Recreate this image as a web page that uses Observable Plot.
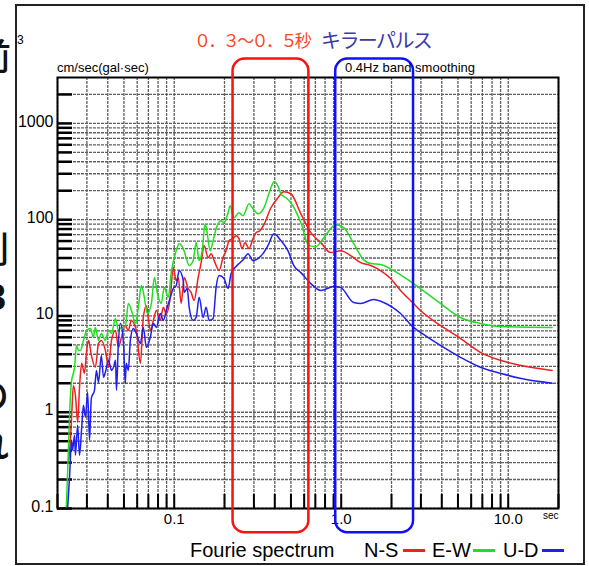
<!DOCTYPE html>
<html><head><meta charset="utf-8">
<script src="https://cdn.jsdelivr.net/npm/d3@7"></script>
<script src="https://cdn.jsdelivr.net/npm/@observablehq/plot@0.6"></script>
<style>
body{margin:0;background:#fff;}
#wrap{position:relative;width:589px;height:566px;overflow:hidden;font-family:"Liberation Sans",Arial,sans-serif;}
#wrap svg{position:absolute;left:0;top:0;}
.t{position:absolute;white-space:nowrap;line-height:1;}
.cut{position:absolute;white-space:nowrap;line-height:1;font-family:"Noto Sans CJK JP";font-size:36px;font-weight:500;color:#111;}
.sw{position:absolute;height:2.5px;width:22px;}
</style></head>
<body>
<div id="wrap"></div>
<script>
// ---- data (period in sec, Fourier amplitude in cm/sec) ----
const nsPeriod = [0.0233,0.0239,0.0243,0.0249,0.0256,0.0264,0.0271,0.0279,0.029,0.0299,0.0307,0.0319,0.0337,0.0352,0.0366,0.0387,0.0404,0.0421,0.0445,0.0463,0.0483,0.0509,0.0531,0.0553,0.0593,0.0627,0.0653,0.0681,0.0719,0.075,0.0782,0.0825,0.086,0.0896,0.0947,0.0986,0.1028,0.1057,0.1101,0.1147,0.1212,0.1263,0.1316,0.1391,0.145,0.151,0.1596,0.1664,0.1734,0.1857,0.1961,0.2044,0.213,0.225,0.2345,0.2443,0.2547,0.2654,0.2804,0.2962,0.3087,0.3261,0.3446,0.3795,0.4178,0.4537,0.4994,0.5732,0.6575,0.7545,0.8658,0.993,1.14,1.308,1.501,1.721,1.975,2.266,2.709,2.983,3.926,5.169,6.806,8.96,11.79,18.31];
const nsAmp = [0.318,0.513,0.888,1.90,1.50,0.788,1.82,3.22,2.54,4.39,5.57,3.90,2.93,5.19,5.57,4.39,2.93,5.57,7.08,4.72,5.99,7.97,7.08,8.98,7.08,3.22,9.65,12.8,7.08,8.98,11.4,8.98,12.3,10.6,15.6,31.8,23.3,25.1,13.5,25.1,19.3,17.5,14.5,25.1,35.8,53.8,40.4,44.4,37.6,29.6,40.4,47.7,60.6,63.6,68.3,63.6,50.1,57.8,50.1,63.6,73.3,76.9,88.8,133,169,195,186,115,73.3,57.8,45.5,47.7,42.4,35.8,33.4,29.6,24.5,18.4,13.5,11.4,7.97,5.85,4.19,3.46,3.07,2.72];

const ewPeriod = [0.0226,0.0233,0.0236,0.0243,0.0249,0.0253,0.026,0.0267,0.0275,0.0286,0.0299,0.0315,0.0328,0.0337,0.0352,0.0366,0.0387,0.0404,0.0421,0.0445,0.0463,0.0483,0.0509,0.0531,0.0561,0.0585,0.061,0.0635,0.0662,0.069,0.073,0.076,0.0793,0.0836,0.0872,0.0921,0.096,0.1028,0.1071,0.1132,0.1179,0.1229,0.1298,0.1353,0.141,0.147,0.1531,0.1574,0.1641,0.171,0.1781,0.1909,0.1988,0.2101,0.216,0.2282,0.2443,0.2582,0.2804,0.2962,0.3173,0.3446,0.3795,0.3954,0.4178,0.4354,0.4665,0.4994,0.5732,0.64,0.7045,0.7863,0.9273,1.035,1.188,1.344,1.501,1.721,2.058,2.709,3.926,5.169,6.806,8.96,18.31];
const ewAmp = [0.104,0.455,0.888,2.15,2.54,2.93,4.94,4.39,4.39,5.57,7.08,7.42,5.99,7.60,5.57,6.59,5.57,7.08,6.59,9.42,7.08,7.60,7.60,13.5,10.6,8.36,12.3,20.7,15.6,10.6,13.5,25.1,17.1,13.5,19.7,15.6,28.2,47.7,56.4,50.1,40.4,33.4,37.6,57.8,37.6,47.7,90.9,73.3,47.7,60.6,80.7,97.7,93.1,118.2,139.6,104.9,118.2,110,146.5,130,115.4,133,214.5,247.7,225,186,169,150,93.1,53.8,52.5,65.1,88.8,82.6,56.4,39.4,35.0,34.2,29.6,21.7,13.5,9.65,8.36,7.78,7.60];

const udPeriod = [0.023,0.0236,0.0243,0.0246,0.0253,0.0256,0.0264,0.0271,0.0279,0.0286,0.0294,0.0303,0.0311,0.0319,0.0333,0.0342,0.0352,0.0366,0.0377,0.0387,0.0404,0.0421,0.0433,0.0445,0.0451,0.0463,0.0476,0.0497,0.0509,0.0516,0.0531,0.0546,0.0569,0.0593,0.0627,0.0653,0.0681,0.0719,0.075,0.0782,0.0825,0.086,0.0896,0.0947,0.0986,0.1028,0.1071,0.1132,0.1147,0.1196,0.1229,0.1298,0.1353,0.141,0.149,0.1552,0.1618,0.171,0.1781,0.1857,0.1988,0.2101,0.219,0.2282,0.2443,0.2618,0.2766,0.2962,0.3173,0.3399,0.3641,0.3954,0.4354,0.4795,0.5205,0.5732,0.6575,0.7545,0.902,0.993,1.188,1.308,1.563,1.794,2.266,2.709,2.983,3.926,5.169,6.806,8.96,11.79,18.31];
const udAmp = [0.101,0.207,0.513,0.404,0.578,0.358,0.733,0.358,0.683,1.18,0.888,1.61,0.513,1.40,1.69,2.72,2.05,3.90,2.31,2.60,3.46,2.72,2.93,3.46,1.69,5.19,8.36,5.19,2.0,3.22,2.72,5.57,7.42,6.59,5.19,7.60,4.72,5.99,8.36,7.60,10.6,8.98,11.4,15.6,19.3,20.7,29.6,23.3,17.5,19.3,12.3,8.98,9.65,15.6,9.65,12.3,8.98,9.42,19.7,26.3,24.5,19.3,27.6,31.1,35.0,39.4,44.4,37.6,39.4,44.4,53.8,71.6,60.6,47.7,33.4,28.2,21.7,18.4,20.2,19.7,13.8,13.5,14.8,13.8,10.6,7.60,6.75,4.94,3.72,2.93,2.54,2.25,2.0];

const xGrid = [0.02,0.03,0.04,0.05,0.06,0.07,0.08,0.09,0.1,0.2,0.3,0.4,0.5,0.6,0.7,0.8,0.9,1,2,3,4,5,6,7,8,9,10,20];
const yGrid = [0.1,0.2,0.3,0.4,0.5,0.6,0.7,0.8,0.9,1,2,3,4,5,6,7,8,9,10,20,30,40,50,60,70,80,90,100,200,300,400,500,600,700,800,900,1000,2000];
const xTicks = [0.1,1,10];
const xTickLabels = ["0.1","1.0","10.0"];
const yTicks = [0.1,1,10,100,1000];
const yTickLabels = ["0.1","1","10","100","1000"];

// highlighted period bands (sec) and their vertical extent (cm/sec)
const redBand = [0.225, 0.64];
const blueBand = [0.927, 2.71];
const bandAmp = [0.056, 4660];

const seriesNames = ["N-S","E-W","U-D"];
const seriesColors = ["#ee2020","#22dd22","#2020ee"];

const toRows = (p, a) => p.map((d, i) => ({period: d, amp: a[i]}));
const ns = toRows(nsPeriod, nsAmp), ew = toRows(ewPeriod, ewAmp), ud = toRows(udPeriod, udAmp);

const gridStyle = {stroke: "#606060", strokeWidth: 1.3, strokeDasharray: "3,1"};
const chart = Plot.plot({
  width: 589, height: 566,
  marginLeft: 57, marginRight: 31, marginTop: 77, marginBottom: 58,
  x: {type: "log", domain: [0.02, 20], label: null},
  y: {type: "log", domain: [0.1, 3000], label: null},
  style: {background: "transparent", fontFamily: "Liberation Sans, Arial, sans-serif", color: "#000"},
  marks: [
    Plot.ruleX(xGrid, {x: d => d, ...gridStyle}),
    Plot.ruleY(yGrid, {y: d => d, ...gridStyle}),
    Plot.tickX(xGrid, {x: d => d, insetTop: 417, stroke: "#000", strokeWidth: 2}),
    Plot.tickY(yGrid, {y: d => d, insetRight: 486, stroke: "#000", strokeWidth: 2.5}),
    Plot.line(ns, {x: "period", y: "amp", stroke: seriesColors[0], strokeWidth: 1.5, curve: "monotone-x"}),
    Plot.line(ew, {x: "period", y: "amp", stroke: seriesColors[1], strokeWidth: 1.5, curve: "monotone-x"}),
    Plot.line(ud, {x: "period", y: "amp", stroke: seriesColors[2], strokeWidth: 1.5, curve: "monotone-x"}),
    Plot.frame({stroke: "#000", strokeWidth: 2}),
    Plot.axisY(yTicks, {tickSize: 0, tickPadding: 4, fontSize: 16, dy: -2, label: null,
      tickFormat: d => yTickLabels[yTicks.indexOf(d)]}),
    Plot.axisX(xTicks, {tickSize: 0, tickPadding: 5, fontSize: 15, label: null,
      tickFormat: d => xTickLabels[xTicks.indexOf(d)]}),
    Plot.rect([0], {x1: redBand[0], x2: redBand[1], y1: bandAmp[0], y2: bandAmp[1], rx: 12, fill: "none", stroke: "#ff1010", strokeWidth: 2.5}),
    Plot.rect([0], {x1: blueBand[0], x2: blueBand[1], y1: bandAmp[0], y2: bandAmp[1], rx: 12, fill: "none", stroke: "#1010ff", strokeWidth: 2.5})
  ]
});
const wrap = document.getElementById("wrap");
wrap.appendChild(chart);

const html = `
<div style="position:absolute;left:15px;top:4px;width:570px;height:561px;border:2px solid #222;box-sizing:border-box;"></div>
<div class="cut" style="left:-25px;top:36px;">前</div>
<div class="cut" style="left:-27px;top:229px;">列</div>
<div class="cut" style="left:-14px;top:280px;font-family:'Liberation Sans';font-weight:700;">3</div>
<div class="cut" style="left:-27px;top:375px;">の</div>
<div class="cut" style="left:-27px;top:424px;">れ</div>
<div class="t" style="left:17px;top:34px;font-size:12px;">3</div>
<div class="t" style="left:194px;top:31px;font-family:'Noto Sans CJK JP';font-size:17px;color:#ff4422;letter-spacing:-2.6px;">０．３～０．５秒</div>
<div class="t" style="left:321px;top:30px;font-family:'Noto Sans CJK JP';font-size:20px;color:#3a3aa8;letter-spacing:-1.6px;">キラーパルス</div>
<div class="t" style="left:57px;top:61px;font-size:13px;">cm/sec(gal·sec)</div>
<div class="t" style="left:345px;top:61px;font-size:13px;">0.4Hz band smoothing</div>
<div class="t" style="left:543px;top:511px;font-size:10px;">sec</div>
<div class="t" style="left:190px;top:540px;font-size:20px;">Fourie spectrum</div>
<div class="t" style="left:364px;top:540px;font-size:20px;">${seriesNames[0]}</div>
<div class="sw" style="left:403px;top:549px;background:${seriesColors[0]}"></div>
<div class="t" style="left:432px;top:540px;font-size:20px;">${seriesNames[1]}</div>
<div class="sw" style="left:473px;top:549px;background:${seriesColors[1]}"></div>
<div class="t" style="left:503px;top:540px;font-size:20px;">${seriesNames[2]}</div>
<div class="sw" style="left:542px;top:549px;background:${seriesColors[2]}"></div>
`;
wrap.insertAdjacentHTML("beforeend", html);
</script>
</body></html>
